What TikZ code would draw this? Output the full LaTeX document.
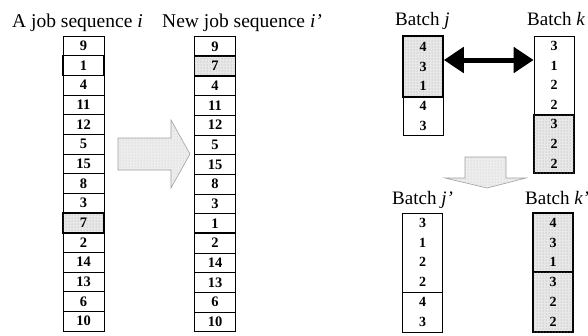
\documentclass[tikz,border=0pt]{standalone}
\usepackage{fontspec}
\setmainfont{Liberation Serif}
\usetikzlibrary{patterns,arrows.meta}
\begin{document}
\begin{tikzpicture}[x=1pt,y=-1pt,
  lbl/.style={font=\fontsize{19}{19}\selectfont, inner sep=0pt, anchor=base west},
  biglbl/.style={lbl, font=\fontsize{19.5}{19.5}\selectfont},
  cell/.style={draw, line width=0.7pt, minimum width=41pt, minimum height=19.67pt,
    inner sep=0pt, font=\fontsize{14.5}{14.5}\selectfont\bfseries},
  box/.style={draw, line width=0.7pt, minimum width=40pt, inner sep=0pt, align=center,
    font=\fontsize{14}{19.7}\selectfont\bfseries},
  plain/.style={},
  hot/.style={line width=1.6pt},
  stip/.style={fill=gray!18, postaction={pattern=dots, pattern color=gray!75}},
  hotstip/.style={hot, stip},
  blockarrow/.style={draw=gray!75, line width=0.6pt, fill=gray!14,
    postaction={pattern=dots, pattern color=gray!45}},
  swap/.style={line width=5pt,
    {Triangle[length=20pt,width=25pt]}-{Triangle[length=20pt,width=25pt]}}]
\useasboundingbox (0,0) rectangle (588,335);

% headings
\node[biglbl] (ti) at (12,27) {A job sequence \textit{i}};
\node[biglbl] (tn) at (162,27) {New job sequence \textit{i'}};
\node[lbl] (tj) at (395,25) {Batch \textit{j}};
\node[lbl] (tk) at (527,25) {Batch \textit{k}};
\node[lbl] (tjp) at (392,204) {Batch \textit{j'}};
\node[lbl] (tkp) at (525,204) {Batch \textit{k'}};

% the two job sequences
\foreach \v/\s [count=\k] in {9/plain,1/hot,4/plain,11/plain,12/plain,5/plain,15/plain,
    8/plain,3/plain,7/hotstip,2/plain,14/plain,13/plain,6/plain,10/plain}
  \node[cell,\s] (a\k) at (83.5,{36+19.67*(\k-0.5)}) {\v};
\foreach \v/\s [count=\k] in {9/plain,7/hotstip,4/plain,11/plain,12/plain,5/plain,15/plain,
    8/plain,3/plain,1/hot,2/plain,14/plain,13/plain,6/plain,10/plain}
  \node[cell,\s] (b\k) at (215,{36.5+19.67*(\k-0.5)}) {\v};

% block arrow from the old sequence to the new one
\filldraw[blockarrow] (118,138) -- (171,138) -- (171,120) -- (190,154)
  -- (171,188) -- (171,170) -- (118,170) -- cycle;

% batches before the swap
\node[box, hotstip, minimum height=61pt] (bj1) at (423,66.5) {4\\3\\1};
\node[box, minimum height=38pt] (bj2) at (423,116) {4\\3};
\node[box, minimum height=79pt] (bk1) at (554,75.5) {3\\1\\2\\2};
\node[box, hotstip, minimum height=58pt] (bk2) at (554,144) {3\\2\\2};

% swap of the two groups
\coordinate (sl) at ([yshift=6.5pt]bj1.east);
\draw[swap] (sl) -- (bk1.west |- sl);

% block arrow down to the result
\filldraw[blockarrow] (465,157) -- (506,157) -- (506,178) -- (526,178) -- (487,188)
  -- (445,178) -- (465,178) -- cycle;

% batches after the swap
\node[box, minimum height=79pt] (bjp1) at (422.5,252.5) {3\\1\\2\\2};
\node[box, minimum height=40pt] (bjp2) at (422.5,312) {4\\3};
\node[box, hotstip, minimum height=59pt] (bkp1) at (553,242.5) {4\\3\\1};
\node[box, hotstip, minimum height=60pt] (bkp2) at (553,302) {3\\2\\2};
\end{tikzpicture}
\end{document}
